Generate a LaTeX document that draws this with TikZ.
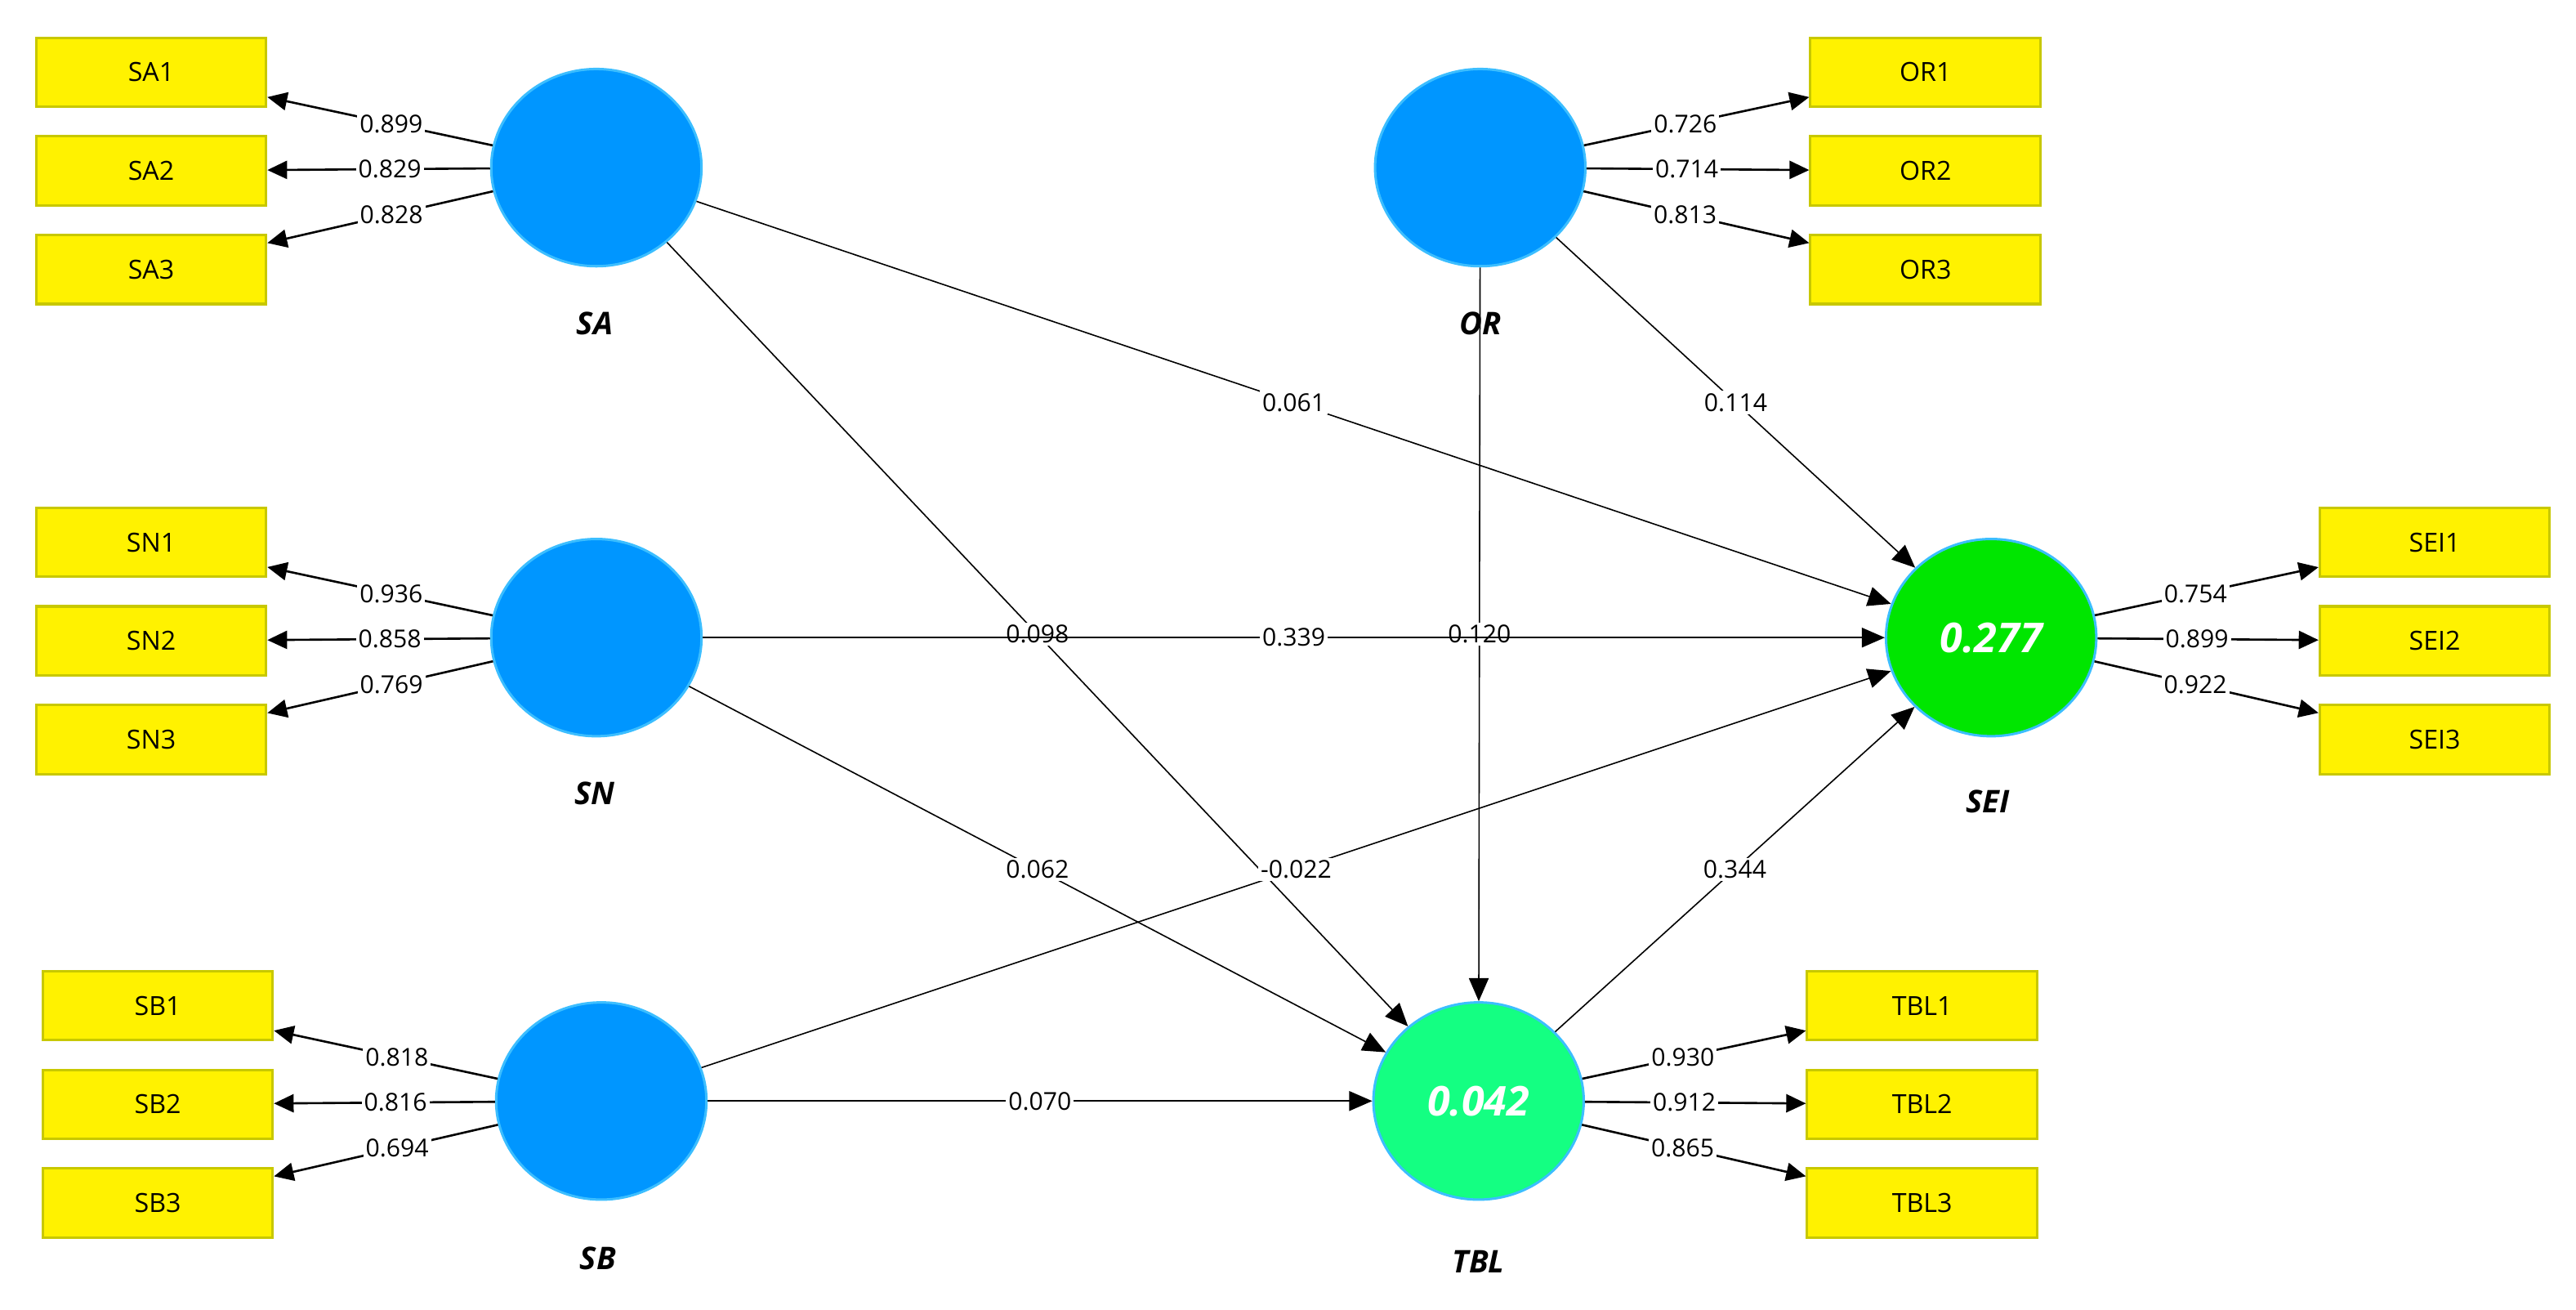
\documentclass[tikz,border=0pt]{standalone}
\usepackage{fontspec}
\setmainfont{Open Sans}
\usetikzlibrary{arrows.meta}
\definecolor{lv}{RGB}{0,150,255}
\definecolor{bd}{RGB}{60,190,255}
\definecolor{sei}{RGB}{0,230,0}
\definecolor{tbl}{RGB}{20,255,130}
\definecolor{ybd}{RGB}{200,200,0}
\begin{document}
\begin{tikzpicture}[x=1pt,y=-1pt,
 lat/.style={ellipse,draw=bd,line width=1.5pt,fill=lv,minimum width=128pt,minimum height=120pt,inner sep=0pt,text=white,font=\fontsize{25}{28}\selectfont\bfseries\itshape},
 ind/.style={rectangle,draw=ybd,line width=1.5pt,fill=yellow,minimum width=140pt,minimum height=42pt,font=\fontsize{16}{18}\selectfont},
 nm/.style={font=\fontsize{19}{22}\selectfont\bfseries\itshape},
 ld/.style={-{Triangle[length=12pt,width=11pt]},line width=1.3pt},
 pt/.style={-{Triangle[length=14pt,width=12pt]},line width=0.8pt},
 lab/.style={fill=white,inner sep=1.5pt,font=\fontsize{15}{17}\selectfont}]
\useasboundingbox (0,0) rectangle (1568,797);
\usetikzlibrary{shapes.geometric}
\node[lat] (SA) at (363,102) {};
\node[lat] (SN) at (363,388) {};
\node[lat] (SB) at (366,670) {};
\node[lat] (OR) at (901,102) {};
\node[lat,fill=sei] (SEI) at (1212,388) {0.277};
\node[lat,fill=tbl] (TBL) at (900,670) {0.042};
\node[nm] (nSA) at (362,197) {SA};
\node[nm] (nSN) at (362,483) {SN};
\node[nm] (nSB) at (364,766) {SB};
\node[nm] (nOR) at (901,197) {OR};
\node[nm] (nSEI) at (1210,488) {SEI};
\node[nm] (nTBL) at (900,768) {TBL};
\foreach \n/\x/\y in {SA1/92/44,SA2/92/104,SA3/92/164,SN1/92/330,SN2/92/390,SN3/92/450,SB1/96/612,SB2/96/672,SB3/96/732,OR1/1172/44,OR2/1172/104,OR3/1172/164,SEI1/1482/330,SEI2/1482/390,SEI3/1482/450,TBL1/1170/612,TBL2/1170/672,TBL3/1170/732}
  \node[ind] (\n) at (\x,\y) {\n};
\foreach \a/\b/\v in {SA/SA1/0.899,SA/SA2/0.829,SA/SA3/0.828,SN/SN1/0.936,SN/SN2/0.858,SN/SN3/0.769,SB/SB1/0.818,SB/SB2/0.816,SB/SB3/0.694,OR/OR1/0.726,OR/OR2/0.714,OR/OR3/0.813,SEI/SEI1/0.754,SEI/SEI2/0.899,SEI/SEI3/0.922,TBL/TBL1/0.930,TBL/TBL2/0.912,TBL/TBL3/0.865}
  \draw[ld] (\a) -- node[lab,pos=0.45] {\v} (\b);
\foreach \a/\b/\v in {SA/SEI/0.061,SA/TBL/0.098,OR/SEI/0.114,OR/TBL/0.120,SN/SEI/0.339,SN/TBL/0.062,SB/SEI/-0.022,TBL/SEI/0.344,SB/TBL/0.070}
  \draw[pt] (\a) -- node[lab,pos=0.5] {\v} (\b);
\end{tikzpicture}
\end{document}
